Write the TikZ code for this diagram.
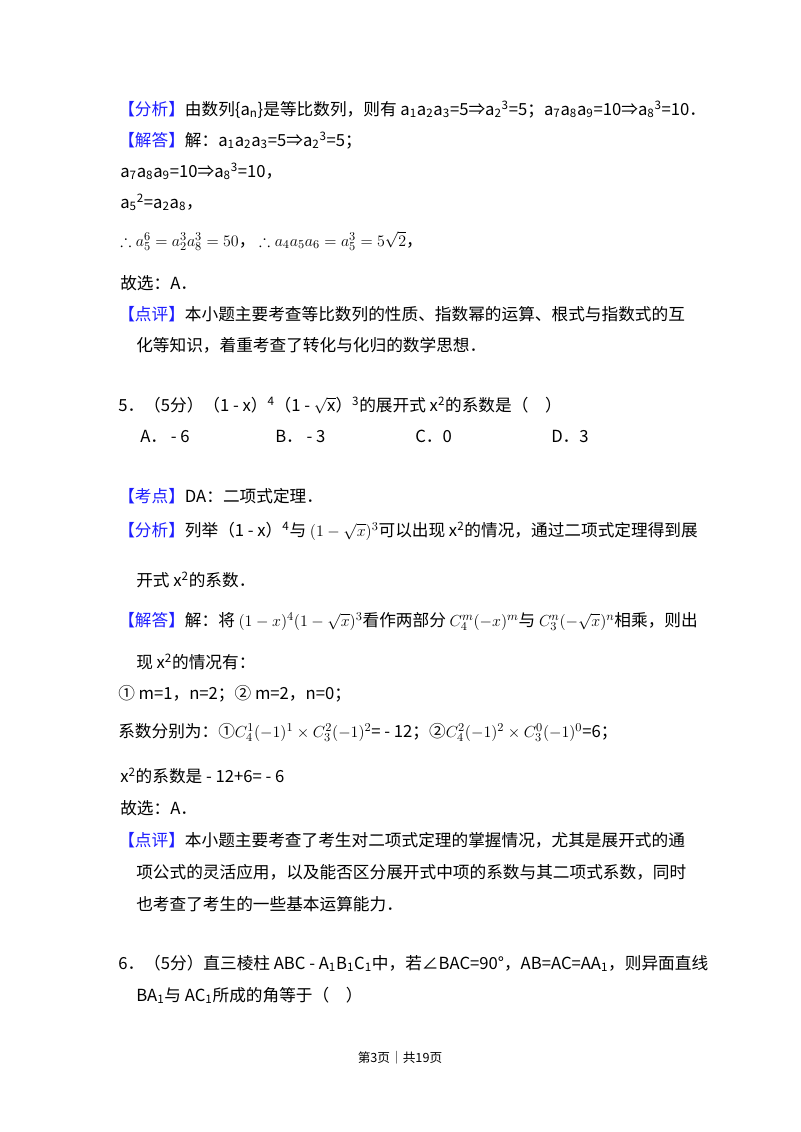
\documentclass[tikz,border=0pt]{standalone}
\usepackage{amsmath,amssymb}
\usepackage{fontspec}
\setmainfont{Noto Sans CJK SC}
\definecolor{kw}{RGB}{30,30,255}
\newcommand{\kb}[1]{\textcolor{kw}{【#1】}}
\newcommand{\dn}[1]{\textsubscript{#1}}
\newcommand{\up}[1]{\textsuperscript{#1}}
\begin{document}
\begin{tikzpicture}[x=0.75pt,y=-0.75pt,t/.style={anchor=base west,inner sep=0pt,font=\fontsize{12.5pt}{14pt}\selectfont}]
\useasboundingbox[fill=white] (0,0) rectangle (800,1132);
\node[t] (l1) at (118,115) {\kb{分析}由数列\{a\dn{n}\}是等比数列，则有 a\dn{1}a\dn{2}a\dn{3}=5⇒a\dn{2}\up{3}=5；a\dn{7}a\dn{8}a\dn{9}=10⇒a\dn{8}\up{3}=10．};
\node[t] (l2) at (118,146) {\kb{解答}解：a\dn{1}a\dn{2}a\dn{3}=5⇒a\dn{2}\up{3}=5；};
\node[t] (l3) at (120,177) {a\dn{7}a\dn{8}a\dn{9}=10⇒a\dn{8}\up{3}=10，};
\node[t] (l4) at (120,208) {a\dn{5}\up{2}=a\dn{2}a\dn{8}，};
\node[t] (l5) at (120,246) {$\therefore a_5^6=a_2^3a_8^3=50$，\ $\therefore a_4a_5a_6=a_5^3=5\sqrt2$，};
\node[t] (l6) at (120,289) {故选：A．};
\node[t] (l7) at (118,320) {\kb{点评}本小题主要考查等比数列的性质、指数幂的运算、根式与指数式的互};
\node[t] (l8) at (136,351) {化等知识，着重考查了转化与化归的数学思想．};
\node[t] (l9) at (118,411) {5．（5分）（1 - x）\up{4}（1 - $\sqrt{\mathrm x}$）\up{3}的展开式 x\up{2}的系数是（\quad ）};
\node[t] (a) at (140,442) {A． - 6};
\node[t] (b) at (275,442) {B． - 3};
\node[t] (c) at (415,442) {C．0};
\node[t] (d) at (551,442) {D．3};
\node[t] (l10) at (118,502) {\kb{考点}DA：二项式定理．};
\node[t] (l11) at (118,536) {\kb{分析}列举（1 - x）\up{4}与 $(1-\sqrt{x})^3$可以出现 x\up{2}的情况，通过二项式定理得到展};
\node[t] (l12) at (136,586) {开式 x\up{2}的系数．};
\node[t] (l13) at (118,626) {\kb{解答}解：将 $(1-x)^4(1-\sqrt{x})^3$看作两部分 $C_4^m(-x)^m$与 $C_3^n(-\sqrt{x})^n$相乘，则出};
\node[t] (l14) at (136,668) {现 x\up{2}的情况有：};
\node[t] (l15) at (118,699) {① m=1，n=2；② m=2，n=0；};
\node[t] (l16) at (118,737) {系数分别为：①$C_4^1(-1)^1\times C_3^2(-1)^2$= - 12；②$C_4^2(-1)^2\times C_3^0(-1)^0$=6；};
\node[t] (l17) at (120,782) {x\up{2}的系数是 - 12+6= - 6};
\node[t] (l18) at (120,814) {故选：A．};
\node[t] (l19) at (118,846) {\kb{点评}本小题主要考查了考生对二项式定理的掌握情况，尤其是展开式的通};
\node[t] (l20) at (136,878) {项公式的灵活应用，以及能否区分展开式中项的系数与其二项式系数，同时};
\node[t] (l21) at (136,910) {也考查了考生的一些基本运算能力．};
\node[t] (l22) at (118,969) {6．（5分）直三棱柱 ABC - A\dn{1}B\dn{1}C\dn{1}中，若∠BAC=90°，AB=AC=AA\dn{1}，则异面直线};
\node[t] (l23) at (136,1001) {BA\dn{1}与 AC\dn{1}所成的角等于（\quad ）};
\node[anchor=base,inner sep=0pt,font=\fontsize{9.5pt}{11pt}\selectfont] (ft) at (400,1062) {第3页｜共19页};
\end{tikzpicture}
\end{document}
